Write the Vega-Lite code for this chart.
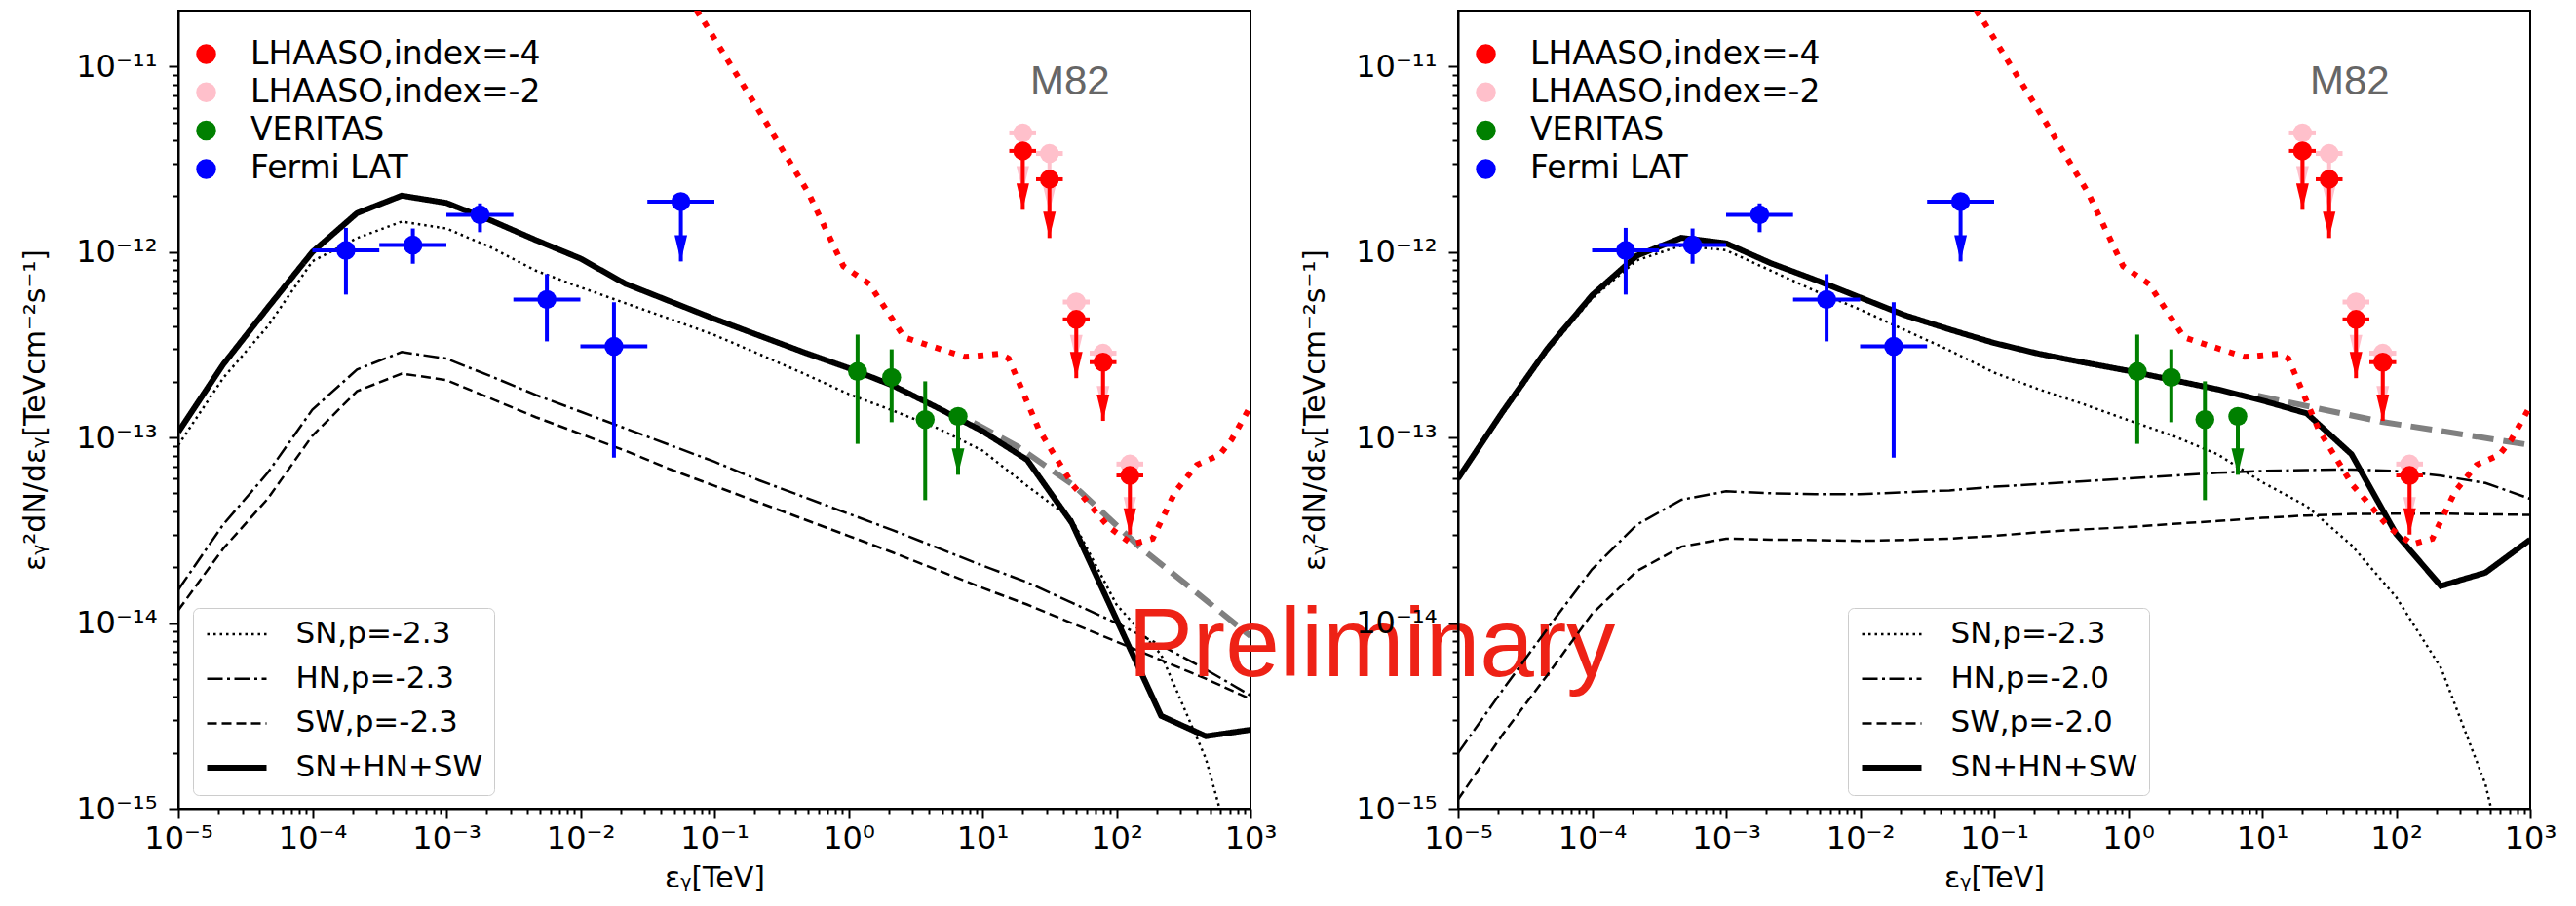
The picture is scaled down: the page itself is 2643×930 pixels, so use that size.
{
"$schema":"https://vega.github.io/schema/vega-lite/v6.json",
"padding":{"left":20,"top":10,"right":0,"bottom":0},
"background":"white",
"bounds":"flush",
"spacing":213,
"config":{"font":"DejaVu Sans","view":{"stroke":"black","strokeWidth":2},
"axis":{"labelFont":"DejaVu Sans","labelFontSize":32,"titleFont":"DejaVu Sans","titleFontSize":30,"titleFontWeight":"normal","labelColor":"black","titleColor":"black","domainColor":"black","domainWidth":2,"tickColor":"black","tickWidth":2,"grid":false,"labelOverlap":false,"labelFlush":false,"labelBound":false},
"legend":{"labelFont":"DejaVu Sans","labelLimit":0}},
"datasets":{
"obs":[
{"series":"LHAASO,index=-2","E":20.0,"Elo":15.85,"Ehi":25.12,"F":4.39e-12,"Fend":2.1e-12},
{"series":"LHAASO,index=-2","E":31.62,"Elo":25.12,"Ehi":39.81,"F":3.4e-12,"Fend":1.63e-12},
{"series":"LHAASO,index=-2","E":50.12,"Elo":39.81,"Ehi":63.1,"F":5.38e-13,"Fend":2.58e-13},
{"series":"LHAASO,index=-2","E":79.43,"Elo":63.1,"Ehi":100,"F":2.85e-13,"Fend":1.37e-13},
{"series":"LHAASO,index=-2","E":125.9,"Elo":100,"Ehi":158.5,"F":7.2e-14,"Fend":3.45e-14},
{"series":"LHAASO,index=-4","E":20.0,"Elo":15.85,"Ehi":25.12,"F":3.51e-12,"Fend":1.69e-12},
{"series":"LHAASO,index=-4","E":31.62,"Elo":25.12,"Ehi":39.81,"F":2.47e-12,"Fend":1.19e-12},
{"series":"LHAASO,index=-4","E":50.12,"Elo":39.81,"Ehi":63.1,"F":4.34e-13,"Fend":2.09e-13},
{"series":"LHAASO,index=-4","E":79.43,"Elo":63.1,"Ehi":100,"F":2.55e-13,"Fend":1.23e-13},
{"series":"LHAASO,index=-4","E":125.9,"Elo":100,"Ehi":158.5,"F":6.25e-14,"Fend":3.0e-14},
{"series":"VERITAS","E":1.17,"F":2.27e-13,"Flo":9.25e-14,"Fhi":3.59e-13},
{"series":"VERITAS","E":2.10,"F":2.11e-13,"Flo":1.21e-13,"Fhi":2.99e-13},
{"series":"VERITAS","E":3.74,"F":1.25e-13,"Flo":4.6e-14,"Fhi":2.01e-13},
{"series":"VERITAS","E":6.58,"F":1.30e-13,"Fend":6.3e-14},
{"series":"Fermi LAT","E":1.78e-4,"Elo":1.0e-4,"Ehi":3.16e-4,"F":1.02e-12,"Flo":5.9e-13,"Fhi":1.35e-12},
{"series":"Fermi LAT","E":5.62e-4,"Elo":3.16e-4,"Ehi":1.0e-3,"F":1.09e-12,"Flo":8.65e-13,"Fhi":1.34e-12},
{"series":"Fermi LAT","E":1.78e-3,"Elo":1.0e-3,"Ehi":3.16e-3,"F":1.59e-12,"Flo":1.28e-12,"Fhi":1.83e-12},
{"series":"Fermi LAT","E":5.62e-3,"Elo":3.16e-3,"Ehi":1.0e-2,"F":5.55e-13,"Flo":3.3e-13,"Fhi":7.6e-13},
{"series":"Fermi LAT","E":1.78e-2,"Elo":1.0e-2,"Ehi":3.16e-2,"F":3.1e-13,"Flo":7.8e-14,"Fhi":5.37e-13},
{"series":"Fermi LAT","E":5.62e-2,"Elo":3.16e-2,"Ehi":0.1,"F":1.87e-12,"Fend":8.9e-13}
],
"sens":[
{"E":0.05623,"F":2.754e-11},{"E":0.07889,"F":1.866e-11},{"E":0.2213,"F":5.585e-12},{"E":0.5035,"F":2.080e-12},{"E":0.9162,"F":8.395e-13},{"E":1.432,"F":6.730e-13},{"E":2.612,"F":3.467e-13},{"E":4.742,"F":3.013e-13},{"E":7.396,"F":2.723e-13},{"E":13.52,"F":2.831e-13},{"E":15.70,"F":2.667e-13},{"E":17.38,"F":2.244e-13},{"E":26.42,"F":1.102e-13},{"E":47.42,"F":5.521e-14},{"E":59.98,"F":4.550e-14},{"E":87.70,"F":3.289e-14},{"E":131.8,"F":2.661e-14},{"E":186.2,"F":2.851e-14},{"E":275.4,"F":5.129e-14},{"E":398.1,"F":7.129e-14},{"E":588.8,"F":8.072e-14},{"E":724.4,"F":9.772e-14},{"E":1000,"F":1.479e-13}
],
"grayL":[{"E":8.61,"F":1.202e-13},{"E":18.28,"F":8.95e-14},{"E":47.86,"F":5.53e-14},{"E":148.3,"F":2.58e-14},{"E":1000,"F":8.51e-15}],
"grayR":[{"E":9.29,"F":1.679e-13},{"E":78.0,"F":1.216e-13},{"E":1000,"F":9.12e-14}],
"modelsL":[
{"model":"SN,p=-2.3","E":1e-5,"F":9.12e-14},{"model":"SN,p=-2.3","E":2.154e-5,"F":2.089e-13},{"model":"SN,p=-2.3","E":4.642e-5,"F":3.981e-13},{"model":"SN,p=-2.3","E":1e-4,"F":8.913e-13},{"model":"SN,p=-2.3","E":2.154e-4,"F":1.189e-12},{"model":"SN,p=-2.3","E":4.642e-4,"F":1.459e-12},{"model":"SN,p=-2.3","E":0.001,"F":1.340e-12},{"model":"SN,p=-2.3","E":0.002154,"F":1.059e-12},{"model":"SN,p=-2.3","E":0.004642,"F":7.943e-13},{"model":"SN,p=-2.3","E":0.01,"F":6.457e-13},{"model":"SN,p=-2.3","E":0.02154,"F":5.309e-13},{"model":"SN,p=-2.3","E":0.04642,"F":4.365e-13},{"model":"SN,p=-2.3","E":0.1,"F":3.573e-13},{"model":"SN,p=-2.3","E":0.2154,"F":2.818e-13},{"model":"SN,p=-2.3","E":0.4642,"F":2.213e-13},{"model":"SN,p=-2.3","E":1,"F":1.718e-13},{"model":"SN,p=-2.3","E":2.154,"F":1.396e-13},{"model":"SN,p=-2.3","E":4.642,"F":1.122e-13},{"model":"SN,p=-2.3","E":10,"F":8.511e-14},{"model":"SN,p=-2.3","E":21.54,"F":5.495e-14},{"model":"SN,p=-2.3","E":46.42,"F":3.631e-14},{"model":"SN,p=-2.3","E":100,"F":1.259e-14},{"model":"SN,p=-2.3","E":215.4,"F":6.761e-15},{"model":"SN,p=-2.3","E":464.2,"F":1.862e-15},{"model":"SN,p=-2.3","E":1000,"F":2.512e-16},
{"model":"HN,p=-2.3","E":1e-5,"F":1.514e-14},{"model":"HN,p=-2.3","E":2.154e-5,"F":3.388e-14},{"model":"HN,p=-2.3","E":4.642e-5,"F":6.457e-14},{"model":"HN,p=-2.3","E":1e-4,"F":1.413e-13},{"model":"HN,p=-2.3","E":2.154e-4,"F":2.328e-13},{"model":"HN,p=-2.3","E":4.642e-4,"F":2.891e-13},{"model":"HN,p=-2.3","E":0.001,"F":2.667e-13},{"model":"HN,p=-2.3","E":0.002154,"F":2.138e-13},{"model":"HN,p=-2.3","E":0.004642,"F":1.698e-13},{"model":"HN,p=-2.3","E":0.01,"F":1.380e-13},{"model":"HN,p=-2.3","E":0.02154,"F":1.122e-13},{"model":"HN,p=-2.3","E":0.04642,"F":9.120e-14},{"model":"HN,p=-2.3","E":0.1,"F":7.413e-14},{"model":"HN,p=-2.3","E":0.2154,"F":5.888e-14},{"model":"HN,p=-2.3","E":0.4642,"F":4.786e-14},{"model":"HN,p=-2.3","E":1,"F":3.890e-14},{"model":"HN,p=-2.3","E":2.154,"F":3.162e-14},{"model":"HN,p=-2.3","E":4.642,"F":2.541e-14},{"model":"HN,p=-2.3","E":10,"F":2.042e-14},{"model":"HN,p=-2.3","E":21.54,"F":1.660e-14},{"model":"HN,p=-2.3","E":46.42,"F":1.288e-14},{"model":"HN,p=-2.3","E":100,"F":1.0e-14},{"model":"HN,p=-2.3","E":215.4,"F":7.586e-15},{"model":"HN,p=-2.3","E":464.2,"F":5.623e-15},{"model":"HN,p=-2.3","E":1000,"F":4.074e-15},
{"model":"SW,p=-2.3","E":1e-5,"F":1.175e-14},{"model":"SW,p=-2.3","E":2.154e-5,"F":2.512e-14},{"model":"SW,p=-2.3","E":4.642e-5,"F":4.677e-14},{"model":"SW,p=-2.3","E":1e-4,"F":1.023e-13},{"model":"SW,p=-2.3","E":2.154e-4,"F":1.778e-13},{"model":"SW,p=-2.3","E":4.642e-4,"F":2.213e-13},{"model":"SW,p=-2.3","E":0.001,"F":2.042e-13},{"model":"SW,p=-2.3","E":0.002154,"F":1.622e-13},{"model":"SW,p=-2.3","E":0.004642,"F":1.288e-13},{"model":"SW,p=-2.3","E":0.01,"F":1.047e-13},{"model":"SW,p=-2.3","E":0.02154,"F":8.511e-14},{"model":"SW,p=-2.3","E":0.04642,"F":6.761e-14},{"model":"SW,p=-2.3","E":0.1,"F":5.495e-14},{"model":"SW,p=-2.3","E":0.2154,"F":4.467e-14},{"model":"SW,p=-2.3","E":0.4642,"F":3.631e-14},{"model":"SW,p=-2.3","E":1,"F":2.951e-14},{"model":"SW,p=-2.3","E":2.154,"F":2.399e-14},{"model":"SW,p=-2.3","E":4.642,"F":1.928e-14},{"model":"SW,p=-2.3","E":10,"F":1.549e-14},{"model":"SW,p=-2.3","E":21.54,"F":1.259e-14},{"model":"SW,p=-2.3","E":46.42,"F":1.0e-14},{"model":"SW,p=-2.3","E":100,"F":7.943e-15},{"model":"SW,p=-2.3","E":215.4,"F":6.310e-15},{"model":"SW,p=-2.3","E":464.2,"F":5.012e-15},{"model":"SW,p=-2.3","E":1000,"F":3.890e-15},
{"model":"SN+HN+SW","E":1e-5,"F":1.072e-13},{"model":"SN+HN+SW","E":2.154e-5,"F":2.472e-13},{"model":"SN+HN+SW","E":4.642e-5,"F":5.012e-13},{"model":"SN+HN+SW","E":1e-4,"F":1.0e-12},{"model":"SN+HN+SW","E":2.154e-4,"F":1.622e-12},{"model":"SN+HN+SW","E":4.642e-4,"F":2.014e-12},{"model":"SN+HN+SW","E":0.001,"F":1.841e-12},{"model":"SN+HN+SW","E":0.002154,"F":1.479e-12},{"model":"SN+HN+SW","E":0.004642,"F":1.161e-12},{"model":"SN+HN+SW","E":0.01,"F":9.226e-13},{"model":"SN+HN+SW","E":0.02154,"F":6.761e-13},{"model":"SN+HN+SW","E":0.04642,"F":5.433e-13},{"model":"SN+HN+SW","E":0.1,"F":4.365e-13},{"model":"SN+HN+SW","E":0.2154,"F":3.548e-13},{"model":"SN+HN+SW","E":0.4642,"F":2.884e-13},{"model":"SN+HN+SW","E":1,"F":2.371e-13},{"model":"SN+HN+SW","E":2.154,"F":1.905e-13},{"model":"SN+HN+SW","E":4.642,"F":1.445e-13},{"model":"SN+HN+SW","E":10,"F":1.084e-13},{"model":"SN+HN+SW","E":21.54,"F":7.586e-14},{"model":"SN+HN+SW","E":46.42,"F":3.467e-14},{"model":"SN+HN+SW","E":100,"F":1.047e-14},{"model":"SN+HN+SW","E":215.4,"F":3.162e-15},{"model":"SN+HN+SW","E":464.2,"F":2.455e-15},{"model":"SN+HN+SW","E":1000,"F":2.661e-15}
],
"modelsR":[
{"model":"SN,p=-2.3","E":1e-5,"F":5.888e-14},{"model":"SN,p=-2.3","E":2.154e-5,"F":1.334e-13},{"model":"SN,p=-2.3","E":4.642e-5,"F":2.917e-13},{"model":"SN,p=-2.3","E":1e-4,"F":5.623e-13},{"model":"SN,p=-2.3","E":2.154e-4,"F":9.016e-13},{"model":"SN,p=-2.3","E":4.642e-4,"F":1.084e-12},{"model":"SN,p=-2.3","E":0.001,"F":1.023e-12},{"model":"SN,p=-2.3","E":0.002154,"F":7.943e-13},{"model":"SN,p=-2.3","E":0.004642,"F":6.166e-13},{"model":"SN,p=-2.3","E":0.01,"F":4.898e-13},{"model":"SN,p=-2.3","E":0.02154,"F":3.802e-13},{"model":"SN,p=-2.3","E":0.04642,"F":2.951e-13},{"model":"SN,p=-2.3","E":0.1,"F":2.239e-13},{"model":"SN,p=-2.3","E":0.2154,"F":1.820e-13},{"model":"SN,p=-2.3","E":0.4642,"F":1.514e-13},{"model":"SN,p=-2.3","E":1,"F":1.242e-13},{"model":"SN,p=-2.3","E":2.154,"F":1.023e-13},{"model":"SN,p=-2.3","E":4.642,"F":8.128e-14},{"model":"SN,p=-2.3","E":10,"F":5.754e-14},{"model":"SN,p=-2.3","E":21.54,"F":4.266e-14},{"model":"SN,p=-2.3","E":46.42,"F":2.630e-14},{"model":"SN,p=-2.3","E":100,"F":1.380e-14},{"model":"SN,p=-2.3","E":215.4,"F":5.754e-15},{"model":"SN,p=-2.3","E":464.2,"F":1.349e-15},{"model":"SN,p=-2.3","E":1000,"F":1.259e-16},
{"model":"HN,p=-2.0","E":1e-5,"F":1.995e-15},{"model":"HN,p=-2.0","E":2.154e-5,"F":4.365e-15},{"model":"HN,p=-2.0","E":4.642e-5,"F":9.333e-15},{"model":"HN,p=-2.0","E":1e-4,"F":1.950e-14},{"model":"HN,p=-2.0","E":2.154e-4,"F":3.388e-14},{"model":"HN,p=-2.0","E":4.642e-4,"F":4.624e-14},{"model":"HN,p=-2.0","E":0.001,"F":5.129e-14},{"model":"HN,p=-2.0","E":0.002154,"F":5.012e-14},{"model":"HN,p=-2.0","E":0.004642,"F":4.955e-14},{"model":"HN,p=-2.0","E":0.01,"F":4.955e-14},{"model":"HN,p=-2.0","E":0.02154,"F":5.070e-14},{"model":"HN,p=-2.0","E":0.04642,"F":5.188e-14},{"model":"HN,p=-2.0","E":0.1,"F":5.433e-14},{"model":"HN,p=-2.0","E":0.2154,"F":5.623e-14},{"model":"HN,p=-2.0","E":0.4642,"F":5.821e-14},{"model":"HN,p=-2.0","E":1,"F":6.026e-14},{"model":"HN,p=-2.0","E":2.154,"F":6.237e-14},{"model":"HN,p=-2.0","E":4.642,"F":6.457e-14},{"model":"HN,p=-2.0","E":10,"F":6.607e-14},{"model":"HN,p=-2.0","E":21.54,"F":6.683e-14},{"model":"HN,p=-2.0","E":46.42,"F":6.730e-14},{"model":"HN,p=-2.0","E":100,"F":6.607e-14},{"model":"HN,p=-2.0","E":215.4,"F":6.237e-14},{"model":"HN,p=-2.0","E":464.2,"F":5.689e-14},{"model":"HN,p=-2.0","E":1000,"F":4.677e-14},
{"model":"SW,p=-2.0","E":1e-5,"F":1.122e-15},{"model":"SW,p=-2.0","E":2.154e-5,"F":2.512e-15},{"model":"SW,p=-2.0","E":4.642e-5,"F":5.248e-15},{"model":"SW,p=-2.0","E":1e-4,"F":1.122e-14},{"model":"SW,p=-2.0","E":2.154e-4,"F":1.905e-14},{"model":"SW,p=-2.0","E":4.642e-4,"F":2.582e-14},{"model":"SW,p=-2.0","E":0.001,"F":2.851e-14},{"model":"SW,p=-2.0","E":0.002154,"F":2.818e-14},{"model":"SW,p=-2.0","E":0.004642,"F":2.799e-14},{"model":"SW,p=-2.0","E":0.01,"F":2.773e-14},{"model":"SW,p=-2.0","E":0.02154,"F":2.805e-14},{"model":"SW,p=-2.0","E":0.04642,"F":2.851e-14},{"model":"SW,p=-2.0","E":0.1,"F":2.951e-14},{"model":"SW,p=-2.0","E":0.2154,"F":3.090e-14},{"model":"SW,p=-2.0","E":0.4642,"F":3.199e-14},{"model":"SW,p=-2.0","E":1,"F":3.289e-14},{"model":"SW,p=-2.0","E":2.154,"F":3.428e-14},{"model":"SW,p=-2.0","E":4.642,"F":3.548e-14},{"model":"SW,p=-2.0","E":10,"F":3.690e-14},{"model":"SW,p=-2.0","E":21.54,"F":3.802e-14},{"model":"SW,p=-2.0","E":46.42,"F":3.873e-14},{"model":"SW,p=-2.0","E":100,"F":3.890e-14},{"model":"SW,p=-2.0","E":215.4,"F":3.890e-14},{"model":"SW,p=-2.0","E":464.2,"F":3.864e-14},{"model":"SW,p=-2.0","E":1000,"F":3.828e-14},
{"model":"SN+HN+SW","E":1e-5,"F":6.026e-14},{"model":"SN+HN+SW","E":2.154e-5,"F":1.380e-13},{"model":"SN+HN+SW","E":4.642e-5,"F":3.020e-13},{"model":"SN+HN+SW","E":1e-4,"F":5.848e-13},{"model":"SN+HN+SW","E":2.154e-4,"F":9.550e-13},{"model":"SN+HN+SW","E":4.642e-4,"F":1.194e-12},{"model":"SN+HN+SW","E":0.001,"F":1.114e-12},{"model":"SN+HN+SW","E":0.002154,"F":8.710e-13},{"model":"SN+HN+SW","E":0.004642,"F":7.079e-13},{"model":"SN+HN+SW","E":0.01,"F":5.689e-13},{"model":"SN+HN+SW","E":0.02154,"F":4.571e-13},{"model":"SN+HN+SW","E":0.04642,"F":3.828e-13},{"model":"SN+HN+SW","E":0.1,"F":3.236e-13},{"model":"SN+HN+SW","E":0.2154,"F":2.831e-13},{"model":"SN+HN+SW","E":0.4642,"F":2.541e-13},{"model":"SN+HN+SW","E":1,"F":2.291e-13},{"model":"SN+HN+SW","E":2.154,"F":2.042e-13},{"model":"SN+HN+SW","E":4.642,"F":1.820e-13},{"model":"SN+HN+SW","E":10,"F":1.585e-13},{"model":"SN+HN+SW","E":21.54,"F":1.349e-13},{"model":"SN+HN+SW","E":46.42,"F":8.128e-14},{"model":"SN+HN+SW","E":100,"F":3.020e-14},{"model":"SN+HN+SW","E":215.4,"F":1.585e-14},{"model":"SN+HN+SW","E":464.2,"F":1.871e-14},{"model":"SN+HN+SW","E":1000,"F":2.818e-14}
]
},
"resolve":{"scale":{"color":"independent","stroke":"independent","fill":"independent","strokeDash":"independent","strokeWidth":"independent"},"legend":{"color":"independent","strokeDash":"independent","strokeWidth":"independent"}},
"hconcat":[
{"width":1100,"height":819,"layer":[
{"data":{"name":"grayL"},"mark":{"type":"line","color":"#808080","strokeWidth":6,"strokeDash":[22,10],"clip":true},
"encoding":{"x":{"field":"E","type":"quantitative","scale":{"type":"log","domain":[0.00001,1000],"nice":false},
"axis":{"title":"εᵧ[TeV]","values":[1e-5,2e-5,3e-5,4e-5,5e-5,6e-5,7e-5,8e-5,9e-5,1e-4,2e-4,3e-4,4e-4,5e-4,6e-4,7e-4,8e-4,9e-4,0.001,0.002,0.003,0.004,0.005,0.006,0.007,0.008,0.009,0.01,0.02,0.03,0.04,0.05,0.06,0.07,0.08,0.09,0.1,0.2,0.3,0.4,0.5,0.6,0.7,0.8,0.9,1,2,3,4,5,6,7,8,9,10,20,30,40,50,60,70,80,90,100,200,300,400,500,600,700,800,900,1000],
"labelExpr":"abs(log(datum.value)/LN10-round(log(datum.value)/LN10))<0.001?'10'+(round(log(datum.value)/LN10)<0?'⁻':'')+(abs(round(log(datum.value)/LN10))>=10?'¹':'')+substring('⁰¹²³⁴⁵⁶⁷⁸⁹',abs(round(log(datum.value)/LN10))%10,abs(round(log(datum.value)/LN10))%10+1):''",
"tickSize":{"condition":{"test":"abs(log(datum.value)/LN10-round(log(datum.value)/LN10))<0.001","value":10},"value":6},"labelPadding":5,"titlePadding":10}},
"y":{"field":"F","type":"quantitative","scale":{"type":"log","domain":[1e-15,2e-11],"nice":false},
"axis":{"title":"εᵧ²dN/dεᵧ[TeVcm⁻²s⁻¹]","values":[1e-15,2e-15,3e-15,4e-15,5e-15,6e-15,7e-15,8e-15,9e-15,1e-14,2e-14,3e-14,4e-14,5e-14,6e-14,7e-14,8e-14,9e-14,1e-13,2e-13,3e-13,4e-13,5e-13,6e-13,7e-13,8e-13,9e-13,1e-12,2e-12,3e-12,4e-12,5e-12,6e-12,7e-12,8e-12,9e-12,1e-11],
"labelExpr":"abs(log(datum.value)/LN10-round(log(datum.value)/LN10))<0.001?'10'+(round(log(datum.value)/LN10)<0?'⁻':'')+(abs(round(log(datum.value)/LN10))>=10?'¹':'')+substring('⁰¹²³⁴⁵⁶⁷⁸⁹',abs(round(log(datum.value)/LN10))%10,abs(round(log(datum.value)/LN10))%10+1):''",
"tickSize":{"condition":{"test":"abs(log(datum.value)/LN10-round(log(datum.value)/LN10))<0.001","value":10},"value":6},"labelPadding":12,"titlePadding":26}}}},
{"data":{"name":"modelsL"},"mark":{"type":"line","color":"black","clip":true,"strokeCap":"butt"},
"encoding":{"x":{"field":"E","type":"quantitative","scale":{"type":"log","domain":[0.00001,1000],"nice":false}},"y":{"field":"F","type":"quantitative","scale":{"type":"log","domain":[1e-15,2e-11],"nice":false}},
"strokeDash":{"field":"model","type":"nominal","scale":{"domain":["SN,p=-2.3","HN,p=-2.3","SW,p=-2.3","SN+HN+SW"],"range":[[2.5,4],[16,4.5,3,4.5],[10,5],[1,0]]},
"legend":{"orient":"none","legendX":15,"legendY":613,"title":null,"symbolType":"stroke","symbolSize":3721,"clipHeight":31,"symbolStrokeColor":"black","labelFontSize":31,"labelOffset":27,"rowPadding":13.7,"padding":11.5,"strokeColor":"#cccccc","fillColor":"rgba(255,255,255,0.8)","cornerRadius":6,"labelLimit":0}},
"strokeWidth":{"field":"model","type":"nominal","scale":{"type":"ordinal","domain":["SN,p=-2.3","HN,p=-2.3","SW,p=-2.3","SN+HN+SW"],"range":[2.5,2.5,2.5,6]},
"legend":{"orient":"none","legendX":15,"legendY":613,"title":null,"symbolType":"stroke","symbolSize":3721,"clipHeight":31,"symbolStrokeColor":"black","labelFontSize":31,"labelOffset":27,"rowPadding":13.7,"padding":11.5,"strokeColor":"#cccccc","fillColor":"rgba(255,255,255,0.8)","cornerRadius":6,"labelLimit":0}}}},
{"data":{"name":"sens"},"mark":{"type":"line","color":"#ff0000","strokeWidth":6,"strokeDash":[6,9],"clip":true},
"encoding":{"x":{"field":"E","type":"quantitative","scale":{"type":"log","domain":[0.00001,1000],"nice":false}},"y":{"field":"F","type":"quantitative","scale":{"type":"log","domain":[1e-15,2e-11],"nice":false}}}},
{"data":{"name":"obs"},"transform":[{"filter":"datum.series=='LHAASO,index=-2'"}],"mark":{"type":"rule","strokeWidth":5},
"encoding":{"x":{"field":"Elo","type":"quantitative","scale":{"type":"log","domain":[0.00001,1000],"nice":false}},"x2":{"field":"Ehi"},"y":{"field":"F","type":"quantitative","scale":{"type":"log","domain":[1e-15,2e-11],"nice":false}},
"stroke":{"field":"series","type":"nominal","scale":{"domain":["Fermi LAT","VERITAS","LHAASO,index=-4","LHAASO,index=-2"],"range":["#0000ff","#008000","#ff0000","#ffc0cb"]},"legend":null}}},
{"data":{"name":"obs"},"transform":[{"filter":"datum.series=='LHAASO,index=-2'"}],"mark":{"type":"rule","strokeWidth":4},
"encoding":{"x":{"field":"E","type":"quantitative","scale":{"type":"log","domain":[0.00001,1000],"nice":false}},"y":{"field":"F","type":"quantitative","scale":{"type":"log","domain":[1e-15,2e-11],"nice":false}},"y2":{"field":"Fend"},
"stroke":{"field":"series","type":"nominal","scale":{"domain":["Fermi LAT","VERITAS","LHAASO,index=-4","LHAASO,index=-2"],"range":["#0000ff","#008000","#ff0000","#ffc0cb"]},"legend":null}}},
{"data":{"name":"obs"},"transform":[{"filter":"datum.series=='LHAASO,index=-2'"}],"mark":{"type":"point","filled":true,"shape":"M -0.48 -2 L 0.48 -2 L 0 0 Z","size":729,"opacity":1,"strokeWidth":0},
"encoding":{"x":{"field":"E","type":"quantitative","scale":{"type":"log","domain":[0.00001,1000],"nice":false}},"y":{"field":"Fend","type":"quantitative","scale":{"type":"log","domain":[1e-15,2e-11],"nice":false}},
"fill":{"field":"series","type":"nominal","scale":{"domain":["Fermi LAT","VERITAS","LHAASO,index=-4","LHAASO,index=-2"],"range":["#0000ff","#008000","#ff0000","#ffc0cb"]},"legend":null}}},
{"data":{"name":"obs"},"transform":[{"filter":"datum.series=='LHAASO,index=-2'"}],"mark":{"type":"point","filled":true,"shape":"circle","size":380,"opacity":1,"strokeWidth":0},
"encoding":{"x":{"field":"E","type":"quantitative","scale":{"type":"log","domain":[0.00001,1000],"nice":false}},"y":{"field":"F","type":"quantitative","scale":{"type":"log","domain":[1e-15,2e-11],"nice":false}},
"color":{"field":"series","type":"nominal","scale":{"domain":["LHAASO,index=-4","LHAASO,index=-2","VERITAS","Fermi LAT"],"range":["#ff0000","#ffc0cb","#008000","#0000ff"]},
"legend":{"orient":"none","legendX":12,"legendY":28,"title":null,"symbolType":"circle","symbolSize":420,"clipHeight":33,"symbolStrokeWidth":0,"labelFontSize":33,"labelOffset":29,"rowPadding":5.3,"padding":0,"labelLimit":0,"encode":{"labels":{"update":{"fill":{"signal":"datum.value=='LHAASO,index=-4'?'#ff0000':datum.value=='LHAASO,index=-2'?'#ffc0cb':datum.value=='VERITAS'?'#008000':'#0000ff'"}}}}}}}},
{"data":{"name":"obs"},"transform":[{"filter":"datum.series!='LHAASO,index=-2' && isValid(datum.Elo)"}],"mark":{"type":"rule","strokeWidth":4},
"encoding":{"x":{"field":"Elo","type":"quantitative","scale":{"type":"log","domain":[0.00001,1000],"nice":false}},"x2":{"field":"Ehi"},"y":{"field":"F","type":"quantitative","scale":{"type":"log","domain":[1e-15,2e-11],"nice":false}},
"stroke":{"field":"series","type":"nominal","scale":{"domain":["Fermi LAT","VERITAS","LHAASO,index=-4","LHAASO,index=-2"],"range":["#0000ff","#008000","#ff0000","#ffc0cb"]},"legend":null}}},
{"data":{"name":"obs"},"transform":[{"filter":"isValid(datum.Flo)"}],"mark":{"type":"rule","strokeWidth":4},
"encoding":{"x":{"field":"E","type":"quantitative","scale":{"type":"log","domain":[0.00001,1000],"nice":false}},"y":{"field":"Flo","type":"quantitative","scale":{"type":"log","domain":[1e-15,2e-11],"nice":false}},"y2":{"field":"Fhi"},
"stroke":{"field":"series","type":"nominal","scale":{"domain":["Fermi LAT","VERITAS","LHAASO,index=-4","LHAASO,index=-2"],"range":["#0000ff","#008000","#ff0000","#ffc0cb"]},"legend":null}}},
{"data":{"name":"obs"},"transform":[{"filter":"datum.series!='LHAASO,index=-2' && isValid(datum.Fend)"}],"mark":{"type":"rule","strokeWidth":4},
"encoding":{"x":{"field":"E","type":"quantitative","scale":{"type":"log","domain":[0.00001,1000],"nice":false}},"y":{"field":"F","type":"quantitative","scale":{"type":"log","domain":[1e-15,2e-11],"nice":false}},"y2":{"field":"Fend"},
"stroke":{"field":"series","type":"nominal","scale":{"domain":["Fermi LAT","VERITAS","LHAASO,index=-4","LHAASO,index=-2"],"range":["#0000ff","#008000","#ff0000","#ffc0cb"]},"legend":null}}},
{"data":{"name":"obs"},"transform":[{"filter":"datum.series!='LHAASO,index=-2' && isValid(datum.Fend)"}],"mark":{"type":"point","filled":true,"shape":"M -0.48 -2 L 0.48 -2 L 0 0 Z","size":729,"opacity":1,"strokeWidth":0},
"encoding":{"x":{"field":"E","type":"quantitative","scale":{"type":"log","domain":[0.00001,1000],"nice":false}},"y":{"field":"Fend","type":"quantitative","scale":{"type":"log","domain":[1e-15,2e-11],"nice":false}},
"fill":{"field":"series","type":"nominal","scale":{"domain":["Fermi LAT","VERITAS","LHAASO,index=-4","LHAASO,index=-2"],"range":["#0000ff","#008000","#ff0000","#ffc0cb"]},"legend":null}}},
{"data":{"name":"obs"},"transform":[{"filter":"datum.series!='LHAASO,index=-2'"}],"mark":{"type":"point","filled":true,"shape":"circle","size":380,"opacity":1,"strokeWidth":0},
"encoding":{"x":{"field":"E","type":"quantitative","scale":{"type":"log","domain":[0.00001,1000],"nice":false}},"y":{"field":"F","type":"quantitative","scale":{"type":"log","domain":[1e-15,2e-11],"nice":false}},
"color":{"field":"series","type":"nominal","scale":{"domain":["LHAASO,index=-4","LHAASO,index=-2","VERITAS","Fermi LAT"],"range":["#ff0000","#ffc0cb","#008000","#0000ff"]},
"legend":{"orient":"none","legendX":12,"legendY":28,"title":null,"symbolType":"circle","symbolSize":420,"clipHeight":33,"symbolStrokeWidth":0,"labelFontSize":33,"labelOffset":29,"rowPadding":5.3,"padding":0,"labelLimit":0,"encode":{"labels":{"update":{"fill":{"signal":"datum.value=='LHAASO,index=-4'?'#ff0000':datum.value=='LHAASO,index=-2'?'#ffc0cb':datum.value=='VERITAS'?'#008000':'#0000ff'"}}}}}}}},
{"data":{"values":[{}]},"mark":{"type":"text","text":"M82","font":"Liberation Sans","fontSize":42,"color":"#666666","align":"center","baseline":"alphabetic"},
"encoding":{"x":{"datum":45,"type":"quantitative","scale":{"type":"log","domain":[0.00001,1000],"nice":false}},"y":{"datum":7.1e-12,"type":"quantitative","scale":{"type":"log","domain":[1e-15,2e-11],"nice":false}}}},
{"data":{"values":[{}]},"mark":{"type":"text","text":"Preliminary","font":"Liberation Sans","fontSize":100,"color":"#ee2216","align":"center","baseline":"alphabetic"},
"encoding":{"x":{"datum":8000,"type":"quantitative","scale":{"type":"log","domain":[0.00001,1000],"nice":false}},"y":{"datum":5.2e-15,"type":"quantitative","scale":{"type":"log","domain":[1e-15,2e-11],"nice":false}}}}
]},
{"width":1100,"height":819,"layer":[
{"data":{"name":"grayR"},"mark":{"type":"line","color":"#808080","strokeWidth":6,"strokeDash":[22,10],"clip":true},
"encoding":{"x":{"field":"E","type":"quantitative","scale":{"type":"log","domain":[0.00001,1000],"nice":false},
"axis":{"title":"εᵧ[TeV]","values":[1e-5,2e-5,3e-5,4e-5,5e-5,6e-5,7e-5,8e-5,9e-5,1e-4,2e-4,3e-4,4e-4,5e-4,6e-4,7e-4,8e-4,9e-4,0.001,0.002,0.003,0.004,0.005,0.006,0.007,0.008,0.009,0.01,0.02,0.03,0.04,0.05,0.06,0.07,0.08,0.09,0.1,0.2,0.3,0.4,0.5,0.6,0.7,0.8,0.9,1,2,3,4,5,6,7,8,9,10,20,30,40,50,60,70,80,90,100,200,300,400,500,600,700,800,900,1000],
"labelExpr":"abs(log(datum.value)/LN10-round(log(datum.value)/LN10))<0.001?'10'+(round(log(datum.value)/LN10)<0?'⁻':'')+(abs(round(log(datum.value)/LN10))>=10?'¹':'')+substring('⁰¹²³⁴⁵⁶⁷⁸⁹',abs(round(log(datum.value)/LN10))%10,abs(round(log(datum.value)/LN10))%10+1):''",
"tickSize":{"condition":{"test":"abs(log(datum.value)/LN10-round(log(datum.value)/LN10))<0.001","value":10},"value":6},"labelPadding":5,"titlePadding":10}},
"y":{"field":"F","type":"quantitative","scale":{"type":"log","domain":[1e-15,2e-11],"nice":false},
"axis":{"title":"εᵧ²dN/dεᵧ[TeVcm⁻²s⁻¹]","values":[1e-15,2e-15,3e-15,4e-15,5e-15,6e-15,7e-15,8e-15,9e-15,1e-14,2e-14,3e-14,4e-14,5e-14,6e-14,7e-14,8e-14,9e-14,1e-13,2e-13,3e-13,4e-13,5e-13,6e-13,7e-13,8e-13,9e-13,1e-12,2e-12,3e-12,4e-12,5e-12,6e-12,7e-12,8e-12,9e-12,1e-11],
"labelExpr":"abs(log(datum.value)/LN10-round(log(datum.value)/LN10))<0.001?'10'+(round(log(datum.value)/LN10)<0?'⁻':'')+(abs(round(log(datum.value)/LN10))>=10?'¹':'')+substring('⁰¹²³⁴⁵⁶⁷⁸⁹',abs(round(log(datum.value)/LN10))%10,abs(round(log(datum.value)/LN10))%10+1):''",
"tickSize":{"condition":{"test":"abs(log(datum.value)/LN10-round(log(datum.value)/LN10))<0.001","value":10},"value":6},"labelPadding":12,"titlePadding":26}}}},
{"data":{"name":"modelsR"},"mark":{"type":"line","color":"black","clip":true,"strokeCap":"butt"},
"encoding":{"x":{"field":"E","type":"quantitative","scale":{"type":"log","domain":[0.00001,1000],"nice":false}},"y":{"field":"F","type":"quantitative","scale":{"type":"log","domain":[1e-15,2e-11],"nice":false}},
"strokeDash":{"field":"model","type":"nominal","scale":{"domain":["SN,p=-2.3","HN,p=-2.0","SW,p=-2.0","SN+HN+SW"],"range":[[2.5,4],[16,4.5,3,4.5],[10,5],[1,0]]},
"legend":{"orient":"none","legendX":400,"legendY":613,"title":null,"symbolType":"stroke","symbolSize":3721,"clipHeight":31,"symbolStrokeColor":"black","labelFontSize":31,"labelOffset":27,"rowPadding":13.7,"padding":11.5,"strokeColor":"#cccccc","fillColor":"rgba(255,255,255,0.8)","cornerRadius":6,"labelLimit":0}},
"strokeWidth":{"field":"model","type":"nominal","scale":{"type":"ordinal","domain":["SN,p=-2.3","HN,p=-2.0","SW,p=-2.0","SN+HN+SW"],"range":[2.5,2.5,2.5,6]},
"legend":{"orient":"none","legendX":400,"legendY":613,"title":null,"symbolType":"stroke","symbolSize":3721,"clipHeight":31,"symbolStrokeColor":"black","labelFontSize":31,"labelOffset":27,"rowPadding":13.7,"padding":11.5,"strokeColor":"#cccccc","fillColor":"rgba(255,255,255,0.8)","cornerRadius":6,"labelLimit":0}}}},
{"data":{"name":"sens"},"mark":{"type":"line","color":"#ff0000","strokeWidth":6,"strokeDash":[6,9],"clip":true},
"encoding":{"x":{"field":"E","type":"quantitative","scale":{"type":"log","domain":[0.00001,1000],"nice":false}},"y":{"field":"F","type":"quantitative","scale":{"type":"log","domain":[1e-15,2e-11],"nice":false}}}},
{"data":{"name":"obs"},"transform":[{"filter":"datum.series=='LHAASO,index=-2'"}],"mark":{"type":"rule","strokeWidth":5},
"encoding":{"x":{"field":"Elo","type":"quantitative","scale":{"type":"log","domain":[0.00001,1000],"nice":false}},"x2":{"field":"Ehi"},"y":{"field":"F","type":"quantitative","scale":{"type":"log","domain":[1e-15,2e-11],"nice":false}},
"stroke":{"field":"series","type":"nominal","scale":{"domain":["Fermi LAT","VERITAS","LHAASO,index=-4","LHAASO,index=-2"],"range":["#0000ff","#008000","#ff0000","#ffc0cb"]},"legend":null}}},
{"data":{"name":"obs"},"transform":[{"filter":"datum.series=='LHAASO,index=-2'"}],"mark":{"type":"rule","strokeWidth":4},
"encoding":{"x":{"field":"E","type":"quantitative","scale":{"type":"log","domain":[0.00001,1000],"nice":false}},"y":{"field":"F","type":"quantitative","scale":{"type":"log","domain":[1e-15,2e-11],"nice":false}},"y2":{"field":"Fend"},
"stroke":{"field":"series","type":"nominal","scale":{"domain":["Fermi LAT","VERITAS","LHAASO,index=-4","LHAASO,index=-2"],"range":["#0000ff","#008000","#ff0000","#ffc0cb"]},"legend":null}}},
{"data":{"name":"obs"},"transform":[{"filter":"datum.series=='LHAASO,index=-2'"}],"mark":{"type":"point","filled":true,"shape":"M -0.48 -2 L 0.48 -2 L 0 0 Z","size":729,"opacity":1,"strokeWidth":0},
"encoding":{"x":{"field":"E","type":"quantitative","scale":{"type":"log","domain":[0.00001,1000],"nice":false}},"y":{"field":"Fend","type":"quantitative","scale":{"type":"log","domain":[1e-15,2e-11],"nice":false}},
"fill":{"field":"series","type":"nominal","scale":{"domain":["Fermi LAT","VERITAS","LHAASO,index=-4","LHAASO,index=-2"],"range":["#0000ff","#008000","#ff0000","#ffc0cb"]},"legend":null}}},
{"data":{"name":"obs"},"transform":[{"filter":"datum.series=='LHAASO,index=-2'"}],"mark":{"type":"point","filled":true,"shape":"circle","size":380,"opacity":1,"strokeWidth":0},
"encoding":{"x":{"field":"E","type":"quantitative","scale":{"type":"log","domain":[0.00001,1000],"nice":false}},"y":{"field":"F","type":"quantitative","scale":{"type":"log","domain":[1e-15,2e-11],"nice":false}},
"color":{"field":"series","type":"nominal","scale":{"domain":["LHAASO,index=-4","LHAASO,index=-2","VERITAS","Fermi LAT"],"range":["#ff0000","#ffc0cb","#008000","#0000ff"]},
"legend":{"orient":"none","legendX":12,"legendY":28,"title":null,"symbolType":"circle","symbolSize":420,"clipHeight":33,"symbolStrokeWidth":0,"labelFontSize":33,"labelOffset":29,"rowPadding":5.3,"padding":0,"labelLimit":0,"encode":{"labels":{"update":{"fill":{"signal":"datum.value=='LHAASO,index=-4'?'#ff0000':datum.value=='LHAASO,index=-2'?'#ffc0cb':datum.value=='VERITAS'?'#008000':'#0000ff'"}}}}}}}},
{"data":{"name":"obs"},"transform":[{"filter":"datum.series!='LHAASO,index=-2' && isValid(datum.Elo)"}],"mark":{"type":"rule","strokeWidth":4},
"encoding":{"x":{"field":"Elo","type":"quantitative","scale":{"type":"log","domain":[0.00001,1000],"nice":false}},"x2":{"field":"Ehi"},"y":{"field":"F","type":"quantitative","scale":{"type":"log","domain":[1e-15,2e-11],"nice":false}},
"stroke":{"field":"series","type":"nominal","scale":{"domain":["Fermi LAT","VERITAS","LHAASO,index=-4","LHAASO,index=-2"],"range":["#0000ff","#008000","#ff0000","#ffc0cb"]},"legend":null}}},
{"data":{"name":"obs"},"transform":[{"filter":"isValid(datum.Flo)"}],"mark":{"type":"rule","strokeWidth":4},
"encoding":{"x":{"field":"E","type":"quantitative","scale":{"type":"log","domain":[0.00001,1000],"nice":false}},"y":{"field":"Flo","type":"quantitative","scale":{"type":"log","domain":[1e-15,2e-11],"nice":false}},"y2":{"field":"Fhi"},
"stroke":{"field":"series","type":"nominal","scale":{"domain":["Fermi LAT","VERITAS","LHAASO,index=-4","LHAASO,index=-2"],"range":["#0000ff","#008000","#ff0000","#ffc0cb"]},"legend":null}}},
{"data":{"name":"obs"},"transform":[{"filter":"datum.series!='LHAASO,index=-2' && isValid(datum.Fend)"}],"mark":{"type":"rule","strokeWidth":4},
"encoding":{"x":{"field":"E","type":"quantitative","scale":{"type":"log","domain":[0.00001,1000],"nice":false}},"y":{"field":"F","type":"quantitative","scale":{"type":"log","domain":[1e-15,2e-11],"nice":false}},"y2":{"field":"Fend"},
"stroke":{"field":"series","type":"nominal","scale":{"domain":["Fermi LAT","VERITAS","LHAASO,index=-4","LHAASO,index=-2"],"range":["#0000ff","#008000","#ff0000","#ffc0cb"]},"legend":null}}},
{"data":{"name":"obs"},"transform":[{"filter":"datum.series!='LHAASO,index=-2' && isValid(datum.Fend)"}],"mark":{"type":"point","filled":true,"shape":"M -0.48 -2 L 0.48 -2 L 0 0 Z","size":729,"opacity":1,"strokeWidth":0},
"encoding":{"x":{"field":"E","type":"quantitative","scale":{"type":"log","domain":[0.00001,1000],"nice":false}},"y":{"field":"Fend","type":"quantitative","scale":{"type":"log","domain":[1e-15,2e-11],"nice":false}},
"fill":{"field":"series","type":"nominal","scale":{"domain":["Fermi LAT","VERITAS","LHAASO,index=-4","LHAASO,index=-2"],"range":["#0000ff","#008000","#ff0000","#ffc0cb"]},"legend":null}}},
{"data":{"name":"obs"},"transform":[{"filter":"datum.series!='LHAASO,index=-2'"}],"mark":{"type":"point","filled":true,"shape":"circle","size":380,"opacity":1,"strokeWidth":0},
"encoding":{"x":{"field":"E","type":"quantitative","scale":{"type":"log","domain":[0.00001,1000],"nice":false}},"y":{"field":"F","type":"quantitative","scale":{"type":"log","domain":[1e-15,2e-11],"nice":false}},
"color":{"field":"series","type":"nominal","scale":{"domain":["LHAASO,index=-4","LHAASO,index=-2","VERITAS","Fermi LAT"],"range":["#ff0000","#ffc0cb","#008000","#0000ff"]},
"legend":{"orient":"none","legendX":12,"legendY":28,"title":null,"symbolType":"circle","symbolSize":420,"clipHeight":33,"symbolStrokeWidth":0,"labelFontSize":33,"labelOffset":29,"rowPadding":5.3,"padding":0,"labelLimit":0,"encode":{"labels":{"update":{"fill":{"signal":"datum.value=='LHAASO,index=-4'?'#ff0000':datum.value=='LHAASO,index=-2'?'#ffc0cb':datum.value=='VERITAS'?'#008000':'#0000ff'"}}}}}}}},
{"data":{"values":[{}]},"mark":{"type":"text","text":"M82","font":"Liberation Sans","fontSize":42,"color":"#666666","align":"center","baseline":"alphabetic"},
"encoding":{"x":{"datum":45,"type":"quantitative","scale":{"type":"log","domain":[0.00001,1000],"nice":false}},"y":{"datum":7.1e-12,"type":"quantitative","scale":{"type":"log","domain":[1e-15,2e-11],"nice":false}}}}
]}
]
}
